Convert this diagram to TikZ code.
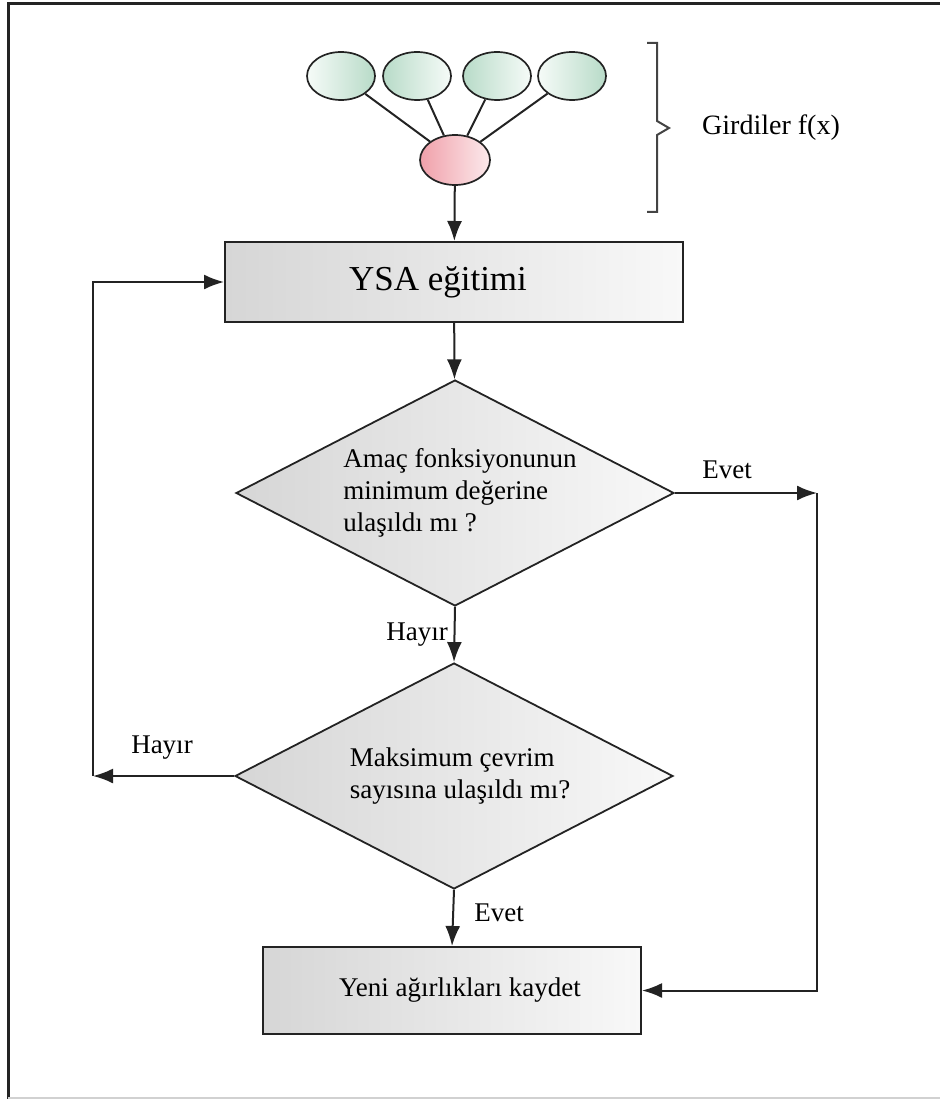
\documentclass[tikz,border=0pt]{standalone}
\usepackage{fontspec}
\setmainfont{Liberation Serif}
\usetikzlibrary{shapes.geometric,arrows.meta}
\definecolor{grn}{RGB}{184,219,200}
\definecolor{grnw}{RGB}{246,251,248}
\definecolor{pnk}{RGB}{240,160,170}
\definecolor{pnkw}{RGB}{252,234,236}
\definecolor{gl}{RGB}{214,214,214}
\definecolor{gr}{RGB}{248,248,248}
\definecolor{ln}{RGB}{35,35,35}
\newcommand\myfs[2]{\fontsize{#1}{#2}\selectfont}
\begin{document}
\begin{tikzpicture}[x=1pt,y=-1pt,
  inp/.style={ellipse, draw=ln, line width=1.7pt, minimum width=68pt, minimum height=48pt, inner sep=0pt},
  procbox/.style={rectangle, draw=ln, line width=2pt, left color=gl, right color=gr, inner sep=0pt},
  decis/.style={diamond, draw=ln, line width=1.8pt, left color=gl, right color=gr, aspect=1.94, inner sep=0pt, align=left, minimum width=438pt, minimum height=226pt, font=\myfs{27}{32}},
  lbl/.style={inner sep=0pt, font=\myfs{27}{32}},
  arr/.style={line width=2pt, draw=ln, -{Latex[length=20pt,width=15pt]}},
  conn/.style={line width=2pt, draw=ln}
]
\useasboundingbox (0,0) rectangle (940,1099);
% frame
\draw[line width=3pt, draw=ln] (8,1099) -- (8,4) -- (940,4);
\draw[line width=2pt, draw=black!18] (8,1097.5) -- (940,1097.5);

% inputs
\node[inp, left color=grnw, right color=grn] (e1) at (341,76) {};
\node[inp, left color=grn, right color=grnw] (e2) at (417,76) {};
\node[inp, left color=grn, right color=grnw] (e3) at (497,76) {};
\node[inp, left color=grnw, right color=grn] (e4) at (572,76) {};
\node[inp, minimum width=70pt, minimum height=50pt, left color=pnk, right color=pnkw] (r) at (455,160) {};
\foreach \e in {e1,e2,e3,e4} \draw[conn] (\e) -- (r);

% brace
\draw[line width=2pt, draw=ln!85!white] (647,43) -- (657,43) -- (657,121) -- (669,128) -- (657,135) -- (657,212) -- (647,212);
\node[lbl, font=\myfs{28}{32}] (gir) at (771,128) {Girdiler f(x)};

% process
\node[procbox, minimum width=458pt, minimum height=80pt, font=\myfs{35}{40}] (ysa) at (454,282) {\hspace*{-32pt}YSA eğitimi};
\node[decis] (d1) at (455,493) {\hspace*{10pt}Amaç fonksiyonunun\\\hspace*{10pt}minimum değerine\\\hspace*{10pt}ulaşıldı mı ?};
\node[decis] (d2) at (454,776) {\hspace*{12pt}Maksimum çevrim\\\hspace*{12pt}sayısına ulaşıldı mı?};
\node[procbox, minimum width=378pt, minimum height=87pt, font=\myfs{27}{32}] (kay) at (452,990.5) {\hspace*{16pt}Yeni ağırlıkları kaydet};

\coordinate (cr) at (817,493);
\coordinate (cl) at (93,776);

\draw[arr] (r) -- (ysa);
\draw[arr] (ysa) -- (d1);
\draw[arr] (d1.east) -- (cr);
\draw[arr] (cr) |- (kay.east);
\draw[arr] (d1.south) -- (d2.north);
\draw[arr] (d2.west) -- (cl);
\draw[arr] (cl) |- (ysa.west);
\draw[arr] (d2.south) -- (kay.north);

\node[lbl] (evet1) at (727,470) {Evet};
\node[lbl] (hay1) at (417,635) {Hayır};
\node[lbl] (hay2) at (162,748) {Hayır};
\node[lbl] (evet2) at (499,913) {Evet};
\end{tikzpicture}
\end{document}
